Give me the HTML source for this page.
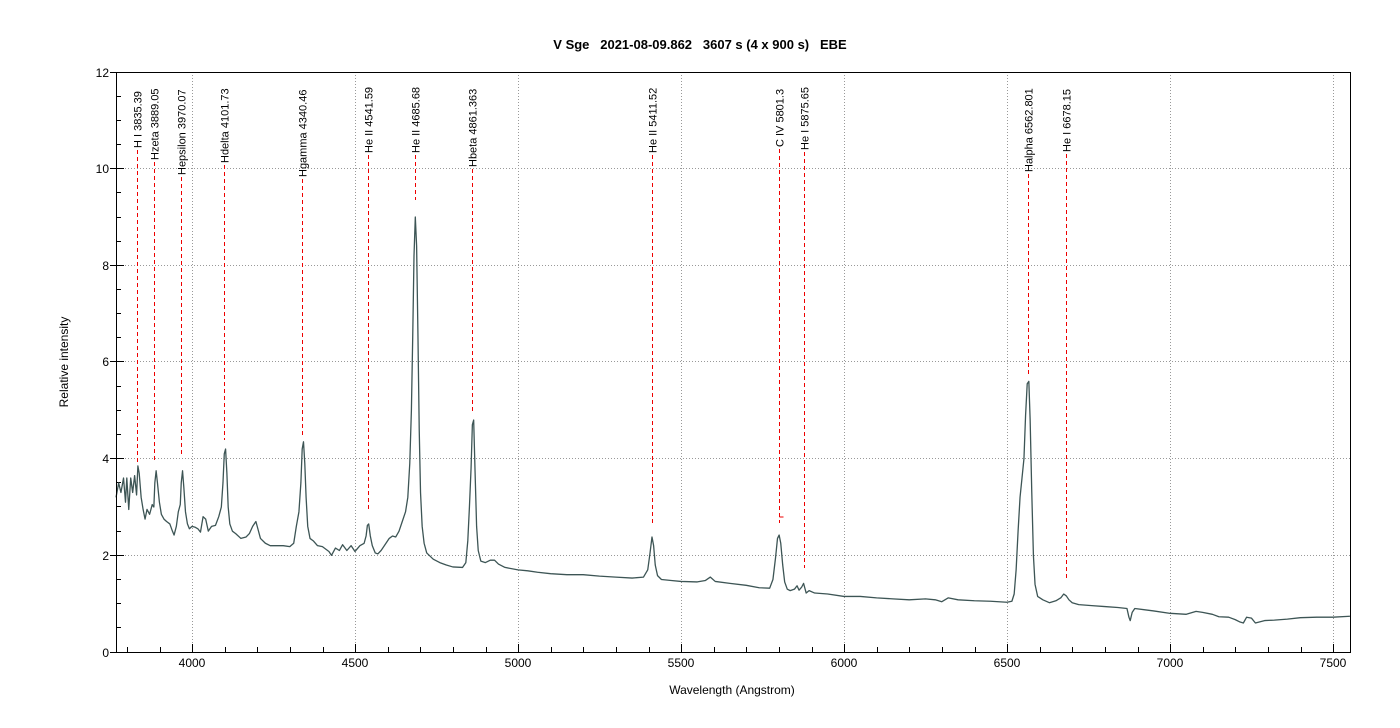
<!DOCTYPE html>
<html><head><meta charset="utf-8"><style>
html,body{margin:0;padding:0;background:#fff;}
svg{display:block;font-family:"Liberation Sans",Arial,sans-serif;}
.t{white-space:pre;}
</style></head><body>
<svg width="1400" height="728" viewBox="0 0 1400 728" xmlns="http://www.w3.org/2000/svg">
<rect width="1400" height="728" fill="#fff"/>
<text class="t" x="700" y="49" text-anchor="middle" font-size="13" font-weight="bold" fill="#000" xml:space="preserve">V Sge   2021-08-09.862   3607 s (4 x 900 s)   EBE</text>
<g stroke="#999" stroke-width="1" stroke-dasharray="1,2" fill="none">
<line x1="192.5" y1="72" x2="192.5" y2="652"/><line x1="355.5" y1="72" x2="355.5" y2="652"/>
<line x1="518.5" y1="72" x2="518.5" y2="652"/><line x1="681.5" y1="72" x2="681.5" y2="652"/>
<line x1="844.5" y1="72" x2="844.5" y2="652"/><line x1="1007.5" y1="72" x2="1007.5" y2="652"/>
<line x1="1170.5" y1="72" x2="1170.5" y2="652"/><line x1="1333.5" y1="72" x2="1333.5" y2="652"/>
<line x1="116" y1="555.5" x2="1350" y2="555.5"/><line x1="116" y1="458.5" x2="1350" y2="458.5"/>
<line x1="116" y1="361.5" x2="1350" y2="361.5"/><line x1="116" y1="265.5" x2="1350" y2="265.5"/>
<line x1="116" y1="168.5" x2="1350" y2="168.5"/>
</g>
<g stroke="#000" stroke-width="1">
<path d="M127.5 652v-5M160.5 652v-5M225.5 652v-5M257.5 652v-5M290.5 652v-5M323.5 652v-5M388.5 652v-5M420.5 652v-5M453.5 652v-5M486.5 652v-5M551.5 652v-5M583.5 652v-5M616.5 652v-5M649.5 652v-5M714.5 652v-5M746.5 652v-5M779.5 652v-5M812.5 652v-5M877.5 652v-5M909.5 652v-5M942.5 652v-5M975.5 652v-5M1040.5 652v-5M1072.5 652v-5M1105.5 652v-5M1138.5 652v-5M1203.5 652v-5M1235.5 652v-5M1268.5 652v-5M1301.5 652v-5"/>
<path d="M192.5 652v-8M355.5 652v-8M518.5 652v-8M681.5 652v-8M844.5 652v-8M1007.5 652v-8M1170.5 652v-8M1333.5 652v-8"/>
<path d="M116 627.5h5M116 603.5h5M116 579.5h5M116 531.5h5M116 506.5h5M116 482.5h5M116 434.5h5M116 410.5h5M116 386.5h5M116 337.5h5M116 313.5h5M116 289.5h5M116 241.5h5M116 217.5h5M116 192.5h5M116 144.5h5M116 120.5h5M116 96.5h5"/>
<path d="M110 652.5h14M110 555.5h14M110 458.5h14M110 361.5h14M110 265.5h14M110 168.5h14M110 72.5h14"/>
</g>
<g font-size="12" fill="#000" text-anchor="end">
<text x="109" y="657">0</text><text x="109" y="560">2</text><text x="109" y="463">4</text>
<text x="109" y="366">6</text><text x="109" y="270">8</text><text x="109" y="173">10</text><text x="109" y="77">12</text>
</g>
<g font-size="12" fill="#000" text-anchor="middle">
<text x="192" y="667">4000</text><text x="355" y="667">4500</text><text x="518" y="667">5000</text>
<text x="681" y="667">5500</text><text x="844" y="667">6000</text><text x="1007" y="667">6500</text>
<text x="1170" y="667">7000</text><text x="1333" y="667">7500</text>
</g>
<text x="732" y="694" text-anchor="middle" font-size="12">Wavelength (Angstrom)</text>
<text transform="translate(68,362) rotate(-90)" text-anchor="middle" font-size="12">Relative intensity</text>
<g stroke="#e00" stroke-width="1" stroke-dasharray="4,3" fill="none">
<line x1="137.5" y1="150" x2="137.5" y2="462"/>
<line x1="154.5" y1="162" x2="154.5" y2="462"/>
<line x1="181.5" y1="177" x2="181.5" y2="456"/>
<line x1="224.5" y1="165" x2="224.5" y2="440"/>
<line x1="302.5" y1="179" x2="302.5" y2="435"/>
<line x1="368.5" y1="155" x2="368.5" y2="510"/>
<line x1="415.5" y1="155" x2="415.5" y2="200"/>
<line x1="472.5" y1="169" x2="472.5" y2="412"/>
<line x1="652.5" y1="155" x2="652.5" y2="525"/>
<line x1="779.5" y1="149" x2="779.5" y2="523"/>
<line x1="804.5" y1="152" x2="804.5" y2="568"/>
<line x1="1028.5" y1="174" x2="1028.5" y2="375"/>
<line x1="1066.5" y1="154" x2="1066.5" y2="580"/>
</g>
<path d="M779.5 517h4" stroke="#e00"/>
<g font-size="11" fill="#000">
<text transform="translate(141.5,148) rotate(-90)">H I 3835.39</text>
<text transform="translate(158.5,160) rotate(-90)">Hzeta 3889.05</text>
<text transform="translate(185.5,175) rotate(-90)">Hepsilon 3970.07</text>
<text transform="translate(228.5,163) rotate(-90)">Hdelta 4101.73</text>
<text transform="translate(306.5,177) rotate(-90)">Hgamma 4340.46</text>
<text transform="translate(372.5,153) rotate(-90)">He II 4541.59</text>
<text transform="translate(419.5,153) rotate(-90)">He II 4685.68</text>
<text transform="translate(476.5,167) rotate(-90)">Hbeta 4861.363</text>
<text transform="translate(656.5,153) rotate(-90)">He II 5411.52</text>
<text transform="translate(783.5,147) rotate(-90)">C IV 5801.3</text>
<text transform="translate(808.5,150) rotate(-90)">He I 5875.65</text>
<text transform="translate(1032.5,172) rotate(-90)">Halpha 6562.801</text>
<text transform="translate(1070.5,152) rotate(-90)">He I 6678.15</text>
</g>
<g transform="matrix(0.326,0,0,-48.33,-1112,652)">
<polyline fill="none" stroke="#3d5555" stroke-width="1.3" vector-effect="non-scaling-stroke" stroke-linejoin="round" points="
3767,3.2 3775,3.5 3782,3.3 3790,3.6 3796,3.1 3800,3.6 3806,2.95 3812,3.6 3818,3.3 3824,3.65 3830,3.25 3834,3.85 3838,3.7 3844,3.2 3850,2.95 3856,2.75 3862,2.95 3870,2.85 3878,3.05 3883,3.0 3886,3.5 3890,3.75 3894,3.5 3900,3.1 3906,2.85 3914,2.75 3922,2.7 3932,2.65 3940,2.5 3945,2.42 3952,2.6 3958,2.9 3964,3.05 3967,3.5 3971,3.75 3975,3.4 3980,2.9 3986,2.65 3992,2.55 4000,2.6 4010,2.58 4018,2.55 4026,2.48 4034,2.8 4042,2.75 4050,2.5 4060,2.6 4072,2.62 4082,2.8 4090,3.0 4095,3.5 4099,4.1 4103,4.2 4107,3.7 4111,3.0 4116,2.65 4124,2.5 4134,2.45 4150,2.35 4166,2.38 4176,2.45 4186,2.6 4196,2.7 4202,2.55 4210,2.35 4225,2.25 4240,2.2 4280,2.2 4300,2.18 4312,2.25 4320,2.6 4328,2.9 4334,3.5 4338,4.2 4342,4.35 4346,3.9 4350,3.2 4355,2.6 4362,2.35 4372,2.3 4385,2.2 4400,2.18 4420,2.08 4428,2.0 4440,2.15 4452,2.1 4462,2.22 4475,2.1 4488,2.2 4500,2.08 4515,2.2 4528,2.25 4534,2.4 4538,2.62 4542,2.65 4547,2.4 4553,2.2 4562,2.05 4570,2.03 4580,2.1 4595,2.25 4605,2.35 4615,2.4 4625,2.38 4635,2.5 4645,2.7 4655,2.9 4662,3.2 4668,3.9 4673,5.0 4677,6.5 4681,8.2 4685,9.0 4689,8.4 4693,6.6 4697,4.6 4701,3.3 4706,2.6 4712,2.25 4720,2.05 4740,1.92 4760,1.85 4780,1.8 4800,1.76 4830,1.75 4840,1.85 4846,2.3 4851,3.0 4856,3.8 4860,4.7 4864,4.8 4868,3.8 4873,2.6 4878,2.1 4886,1.88 4900,1.85 4915,1.9 4928,1.9 4940,1.82 4960,1.75 5000,1.7 5030,1.68 5060,1.65 5100,1.62 5150,1.6 5200,1.6 5250,1.57 5300,1.55 5350,1.53 5385,1.55 5398,1.7 5405,2.05 5411,2.38 5416,2.2 5421,1.8 5428,1.58 5440,1.5 5470,1.48 5500,1.46 5550,1.45 5575,1.48 5590,1.55 5605,1.46 5650,1.42 5700,1.38 5740,1.33 5772,1.32 5782,1.5 5790,1.95 5796,2.35 5801,2.42 5806,2.25 5812,1.8 5818,1.45 5826,1.3 5835,1.27 5848,1.3 5856,1.37 5862,1.28 5870,1.34 5876,1.42 5884,1.22 5893,1.27 5910,1.22 5950,1.2 6000,1.15 6050,1.15 6100,1.12 6150,1.1 6200,1.08 6250,1.1 6280,1.08 6300,1.04 6320,1.12 6350,1.08 6400,1.06 6450,1.05 6500,1.03 6515,1.05 6522,1.2 6528,1.7 6534,2.5 6540,3.2 6546,3.6 6552,4.0 6557,4.9 6562,5.55 6567,5.6 6571,4.8 6576,3.3 6581,2.0 6586,1.4 6594,1.15 6610,1.08 6630,1.02 6650,1.06 6665,1.12 6674,1.2 6682,1.16 6690,1.08 6700,1.02 6720,0.98 6760,0.96 6800,0.94 6840,0.92 6868,0.9 6874,0.72 6878,0.65 6884,0.82 6892,0.9 6950,0.85 7000,0.8 7050,0.78 7080,0.84 7100,0.82 7130,0.78 7150,0.73 7180,0.72 7200,0.67 7215,0.62 7225,0.6 7235,0.72 7250,0.7 7262,0.6 7290,0.65 7320,0.66 7360,0.68 7400,0.71 7450,0.72 7500,0.72 7552,0.74"/>
</g>
<rect x="116.5" y="72.5" width="1234" height="580" fill="none" stroke="#000" stroke-width="1"/>
</svg>
</body></html>
